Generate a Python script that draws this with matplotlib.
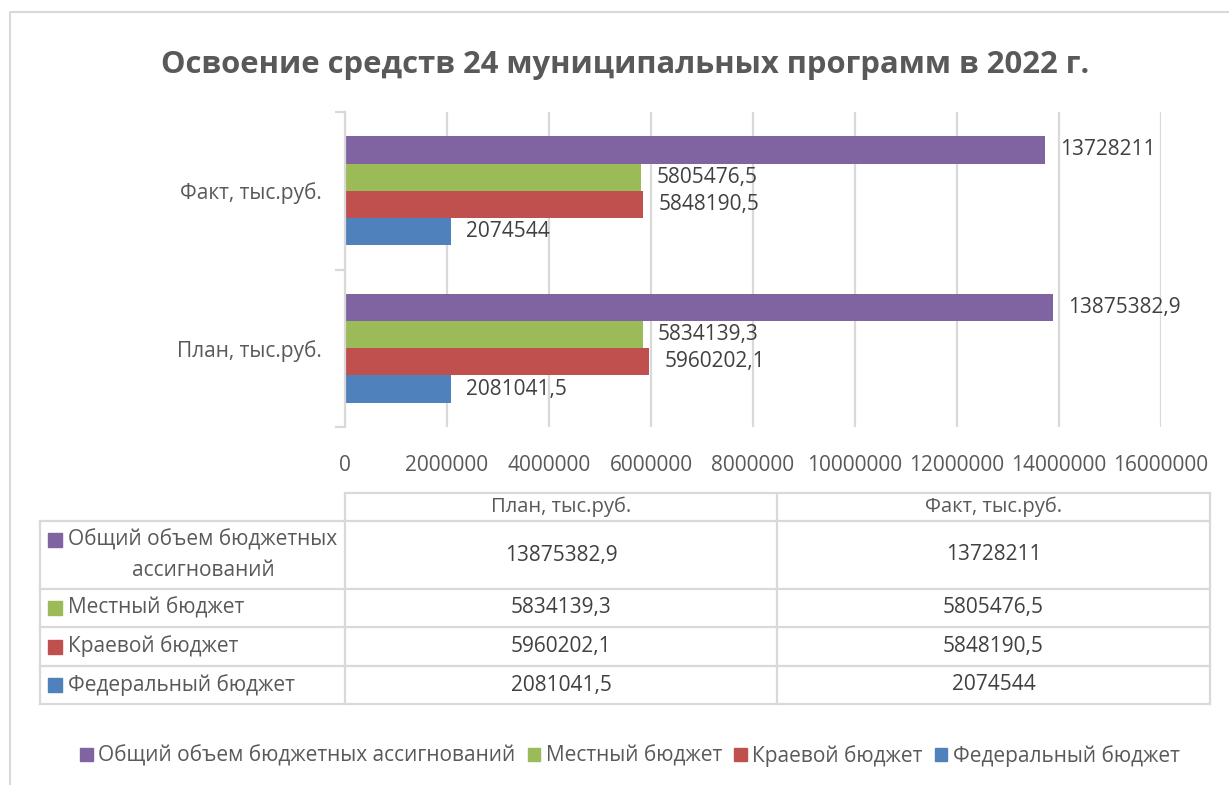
import matplotlib
matplotlib.use("Agg")
import matplotlib.pyplot as plt
import matplotlib.ticker as ticker
from matplotlib.patches import Rectangle, Patch

plt.rcParams['font.family'] = ['Open Sans', 'DejaVu Sans']

# data
categories = ["План, тыс.руб.", "Факт, тыс.руб."]
series_names = ["Федеральный бюджет", "Краевой бюджет", "Местный бюджет",
                "Общий объем бюджетных ассигнований"]
federal = [2081041.5, 2074544]
regional = [5960202.1, 5848190.5]
local = [5834139.3, 5805476.5]
total = [13875382.9, 13728211]
x_ticks = [0, 2000000, 4000000, 6000000, 8000000, 10000000, 12000000, 14000000, 16000000]

series = [federal, regional, local, total]
colors = ["#4F81BD", "#C0504D", "#9BBB59", "#8064A2"]
LABEL_C = "#404040"
TEXT_C = "#595959"
LINE_C = "#D9D9D9"


def fmt(v):
    return str(v).replace('.', ',')


W, H = 1229, 785
fig = plt.figure(figsize=(W / 100, H / 100), dpi=100)

# overlay in pixel coordinates (title, table, legend, frame)
ov = fig.add_axes([0, 0, 1, 1])
ov.set_xlim(0, W)
ov.set_ylim(H, 0)
ov.axis('off')

# main bar axes
left, right, top, bottom = 345, 1161, 112, 427
ax = fig.add_axes([left / W, 1 - bottom / H, (right - left) / W, (bottom - top) / H])

h = 0.173
for i, (vals, name, c) in enumerate(zip(series, series_names, colors)):
    ys = [k + (i - 1.5) * h for k in range(len(categories))]
    ax.barh(ys, vals, height=h, color=c, label=name, zorder=3)
    for y, v in zip(ys, vals):
        ax.annotate(fmt(v), (v, y), xytext=(11, 0), textcoords='offset points',
                    va='center', ha='left', fontsize=15, color=LABEL_C)

ax.set_xlim(0, 16000000)
ax.set_ylim(-0.5, len(categories) - 0.5)
ax.set_xticks(x_ticks)
ax.xaxis.set_major_formatter(ticker.FuncFormatter(lambda x, p: '%d' % int(x)))
ax.tick_params(axis='x', length=0, pad=20, labelsize=15, labelcolor=TEXT_C)
ax.grid(axis='x', color=LINE_C, linewidth=1.6, zorder=0)

ax.set_yticks([-0.5, 0.5, 1.5])
ax.set_yticklabels([])
ax.set_yticks(range(len(categories)), minor=True)
ax.set_yticklabels(categories, minor=True)
ax.tick_params(axis='y', which='major', length=7, color=LINE_C, width=1.6)
ax.tick_params(axis='y', which='minor', length=0, pad=17, labelsize=15, labelcolor=TEXT_C)
for s in ['top', 'right', 'bottom']:
    ax.spines[s].set_visible(False)
ax.spines['left'].set_color(LINE_C)
ax.spines['left'].set_linewidth(1.6)
ax.spines['left'].set_zorder(4)

# frame and title
ov.plot([10, 10, W + 5], [H + 5, 12, 12], color=LINE_C, lw=1.5)
ov.text(625, 65, "Освоение средств 24 муниципальных программ в 2022 г.",
        ha='center', va='center', fontsize=22.3, fontweight='bold', color=TEXT_C)

# data table
tl, tc, tm, tr = 40, 345, 777, 1210
hdr_top, hdr_bot = 493, 521
row_bounds = [521, 589, 627, 666, 704]
lw = 1.6
ov.plot([tc, tr], [hdr_top, hdr_top], color=LINE_C, lw=lw)
for y in row_bounds:
    ov.plot([tl, tr], [y, y], color=LINE_C, lw=lw)
ov.plot([tl, tl], [row_bounds[0], row_bounds[-1]], color=LINE_C, lw=lw)
for x in [tc, tm, tr]:
    ov.plot([x, x], [hdr_top, row_bounds[-1]], color=LINE_C, lw=lw)
for x0, x1, cat in zip([tc, tm], [tm, tr], categories):
    ov.text((x0 + x1) / 2, (hdr_top + hdr_bot) / 2, cat, ha='center', va='center',
            fontsize=14.5, color=TEXT_C)

order = list(range(len(series)))[::-1]   # total first
for r, idx in enumerate(order):
    y0, y1 = row_bounds[r], row_bounds[r + 1]
    yc = (y0 + y1) / 2
    name = series_names[idx]
    if idx == 3:
        words = name.split(' ')
        line1 = ' '.join(words[:3])
        line2 = ' '.join(words[3:])
        ov.add_patch(Rectangle((48, yc - 15 - 7), 14, 14, color=colors[idx]))
        ov.text(68, yc - 15, line1, ha='left', va='center', fontsize=15, color=TEXT_C)
        ov.text(203, yc + 15, line2, ha='center', va='center', fontsize=15, color=TEXT_C)
    else:
        ov.add_patch(Rectangle((48, yc - 7), 14, 14, color=colors[idx]))
        ov.text(68, yc, name, ha='left', va='center', fontsize=15, color=TEXT_C)
    for x0, x1, v in zip([tc, tm], [tm, tr], series[idx]):
        ov.text((x0 + x1) / 2, yc, fmt(v), ha='center', va='center',
                fontsize=15, color=LABEL_C)

# legend
handles = [Patch(color=colors[i], label=series_names[i]) for i in order]
ov.legend(handles=handles, loc='center', bbox_to_anchor=(630 / W, 1 - 756 / H),
          bbox_transform=fig.transFigure, ncol=4, frameon=False, fontsize=15,
          handlelength=0.6, handleheight=0.6, handletextpad=0.25, columnspacing=0.6,
          labelcolor=TEXT_C)

fig.savefig("out.png", dpi=100)
